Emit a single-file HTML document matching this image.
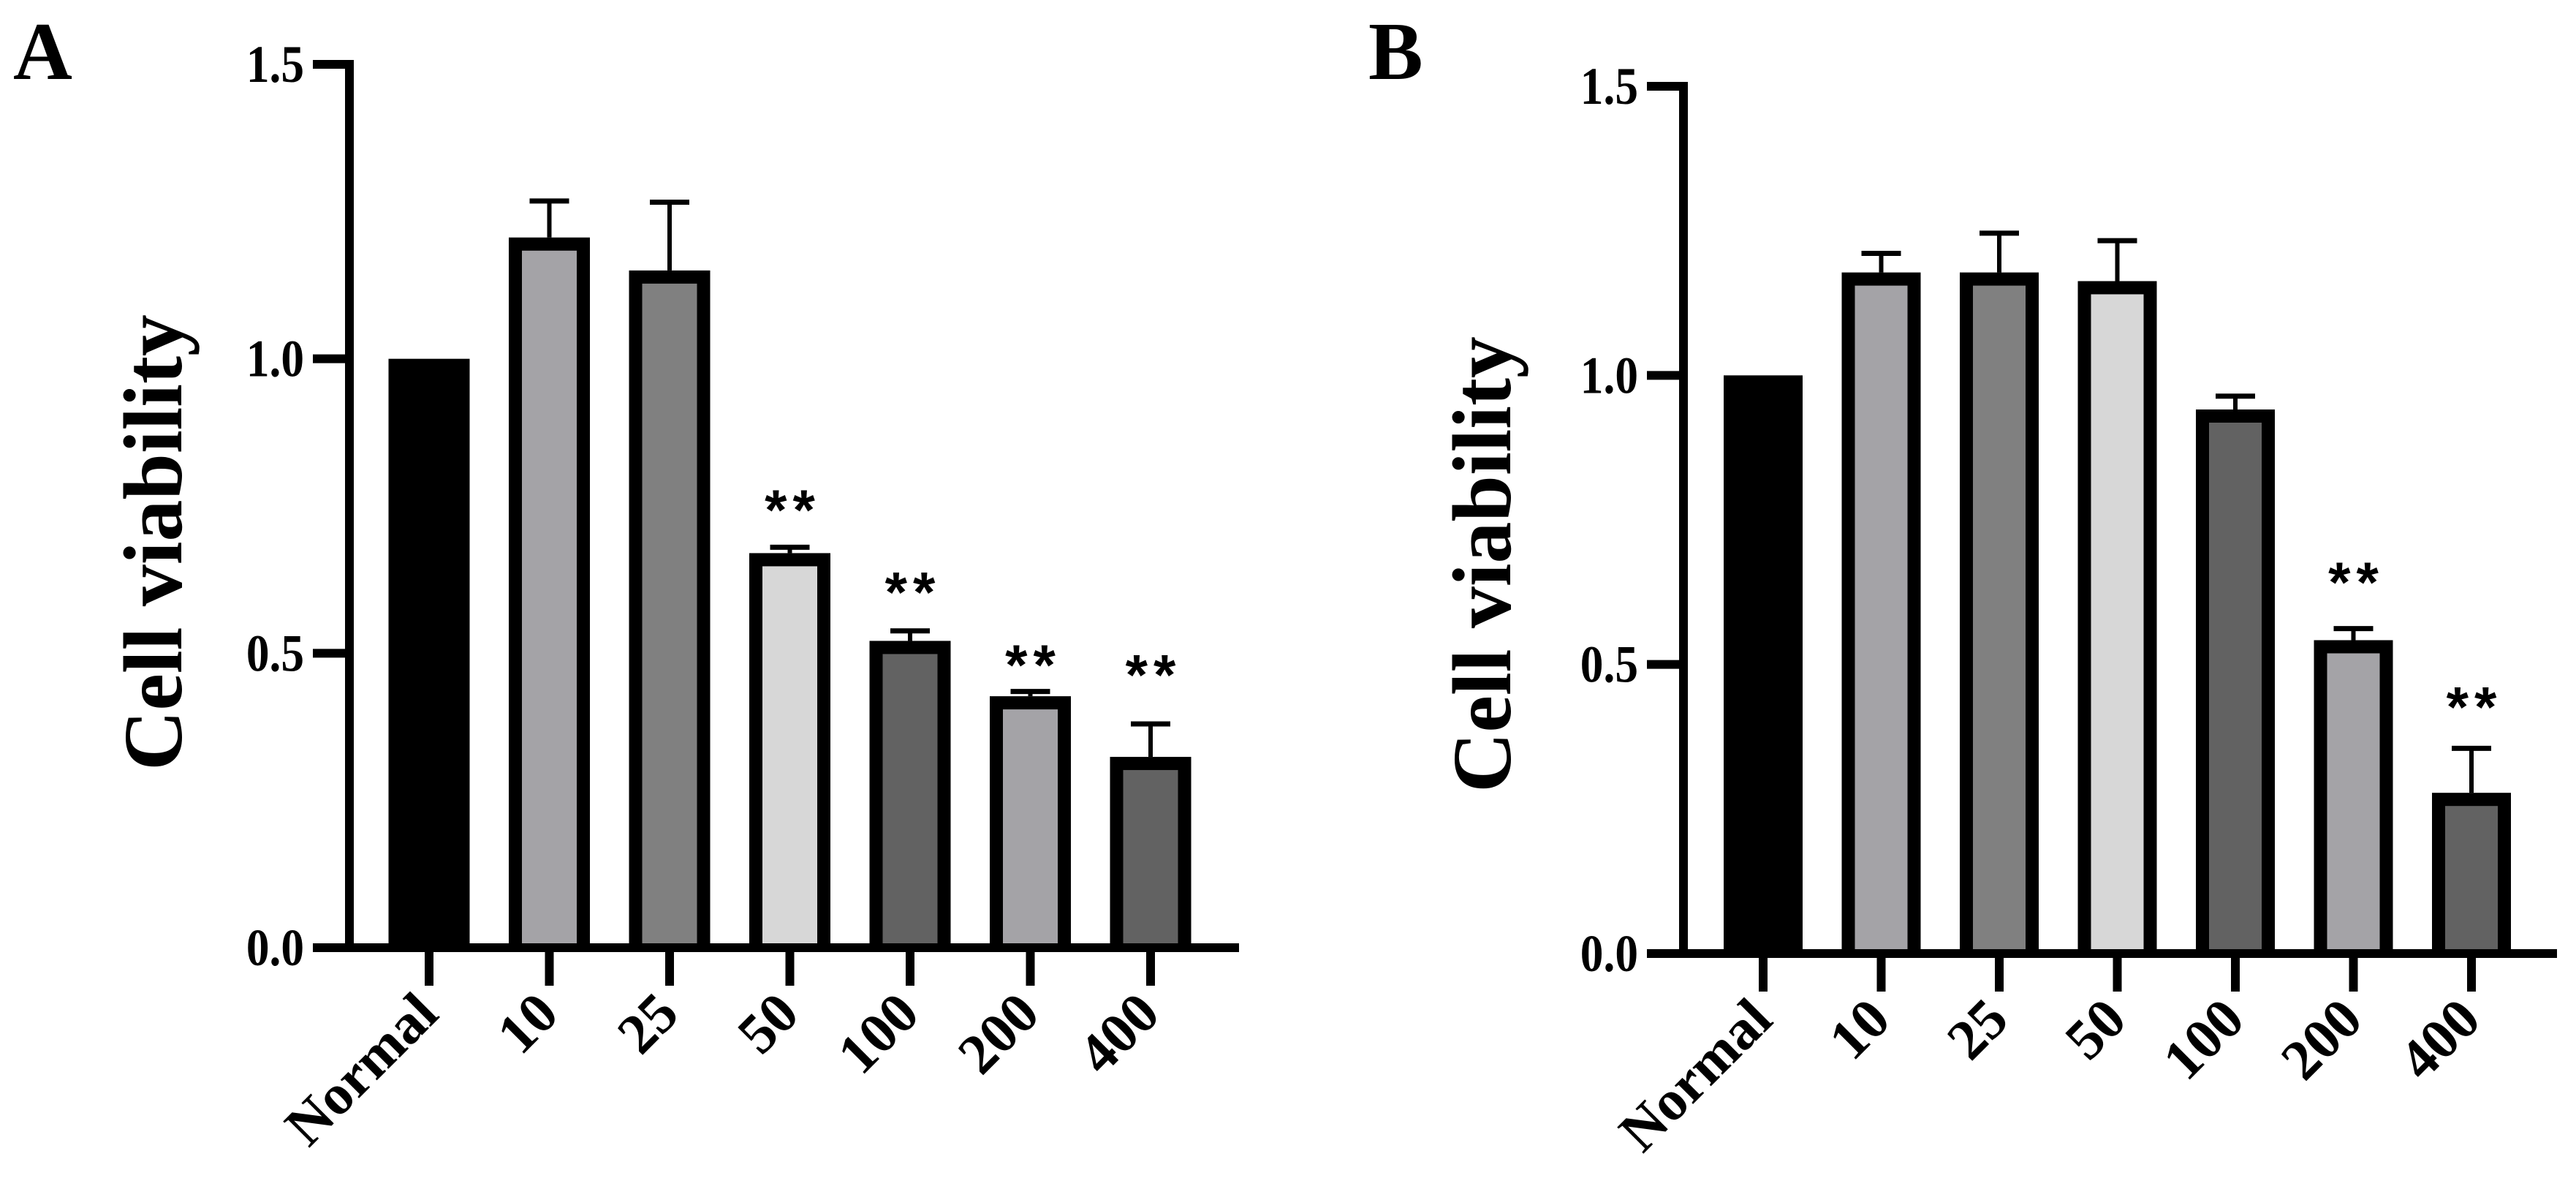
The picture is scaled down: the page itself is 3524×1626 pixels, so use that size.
<!DOCTYPE html>
<html><head><meta charset="utf-8">
<style>
html,body{margin:0;padding:0;background:#fff;}
svg{display:block;}
text{font-family:"Liberation Serif","Times New Roman",serif;font-weight:bold;fill:#000;}
.star{font-family:"Liberation Sans",sans-serif;font-weight:bold;}
</style></head>
<body>
<svg id="chart" width="3524" height="1626" viewBox="0 0 3524 1626" xmlns="http://www.w3.org/2000/svg">
<text x="18" y="108" font-size="112">A</text>
<text x="1872" y="108" font-size="112">B</text>
</svg>
<script>
const categories = ["Normal","10","25","50","100","200","400"];
const fills = ["#000000","#a4a3a7","#808080","#d7d7d7","#626262","#a4a3a7","#626262"];
const yTicks = [0.0, 0.5, 1.0, 1.5];
const yTickLabels = ["0.0","0.5","1.0","1.5"];
const valuesA = [1.0, 1.206, 1.150, 0.670, 0.521, 0.427, 0.324];
const errTopA = [1.0, 1.268, 1.266, 0.680, 0.538, 0.435, 0.380];
const starsA = [null, null, null, 0.75, 0.61, 0.487, 0.47];
const valuesB = [1.0, 1.178, 1.178, 1.163, 0.941, 0.542, 0.278];
const errTopB = [1.0, 1.211, 1.246, 1.233, 0.964, 0.562, 0.355];
const starsB = [null, null, null, null, null, 0.649, 0.433];

const NS = "http://www.w3.org/2000/svg";
const svg = document.getElementById("chart");
function mk(tag, attrs, parent){
  const e = document.createElementNS(NS, tag);
  for (const k in attrs) e.setAttribute(k, attrs[k]);
  (parent||svg).appendChild(e);
  return e;
}

function panel(p){
  const g = mk("g", {});
  
  
  const y = v => p.y0 - (p.y0 - p.y15) * v / 1.5;
  const x = i => p.x0 + p.step * i;
  const ya = mk("line", {x1:p.ax, y1:y(1.5)-6, x2:p.ax, y2:p.y0+6, stroke:"#000","stroke-width":12}, g);
  
  
  yTicks.forEach((t, k) => {
    const tk = mk("line", {x1:p.ax-50, y1:y(t), x2:p.ax, y2:y(t), stroke:"#000","stroke-width":12}, g);
    
    
    const tl = mk("text", {x:p.ax-62, y:y(t)+24, "font-size":72, "text-anchor":"end", transform:"translate(" + (p.ax-62) + ",0) scale(0.88,1) translate(" + (-(p.ax-62)) + ",0)"}, g);
    tl.textContent = yTickLabels[k];
    
    
  });
  const tt = mk("text", {x:0, y:0, "font-size":114, "text-anchor":"middle", transform:"translate(" + p.titleX + "," + p.titleY + ") rotate(-90)"}, g);
  tt.textContent = "Cell viability";
  
  
  categories.forEach((c, i) => {
    const cx = x(i), top = y(p.vals[i]);
    if (i > 0) {
      const eb = mk("line", {x1:cx, y1:y(p.err[i]), x2:cx, y2:top, stroke:"#000","stroke-width":6}, g);
      
      
      const cap = mk("line", {x1:cx-27, y1:y(p.err[i]), x2:cx+27, y2:y(p.err[i]), stroke:"#000","stroke-width":7}, g);
      
      
    }
    const outer = mk("rect", {x:cx-p.bw/2, y:top, width:p.bw, height:p.y0-top, fill:"#000"}, g);
    
    
    if (i > 0) {
      const inner = mk("rect", {x:cx-p.bw/2+18, y:top+18, width:p.bw-36, height:Math.max(0,p.y0-top-18-6), fill:fills[i]}, g);
      
      
    }
    const tk = mk("line", {x1:cx, y1:p.y0, x2:cx, y2:p.y0+52, stroke:"#000","stroke-width":12}, g);
    
    
    const lx = cx + 16, ly = p.y0 + 94;
    const lb = mk("text", {x:0, y:0, "font-size":78, "text-anchor":"end", transform:"translate(" + lx + "," + ly + ") rotate(-45)"}, g);
    lb.textContent = c;
    
    
    if (p.stars[i] !== null) {
      const st = mk("text", {x:cx+4, y:y(p.stars[i])+32, "font-size":78, "text-anchor":"middle", "letter-spacing":"8", class:"star"}, g);
      st.textContent = "**";
      
      
    }
  });
  const xa = mk("line", {x1:p.ax-50, y1:p.y0, x2:p.xEnd, y2:p.y0, stroke:"#000","stroke-width":12}, g);
  
  
}

panel({id:"panel-a", ax:478, y0:1296, y15:88, x0:587, step:164.5, bw:111, xEnd:1695,
  titleX:248, titleY:742, vals:valuesA, err:errTopA, stars:starsA});
panel({id:"panel-b", ax:2303, y0:1304, y15:118, x0:2412, step:161.5, bw:108, xEnd:3498,
  titleX:2066, titleY:772, vals:valuesB, err:errTopB, stars:starsB});
</script>
</body></html>
